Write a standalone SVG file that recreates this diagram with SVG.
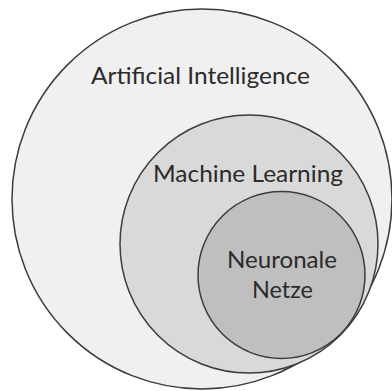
<svg xmlns="http://www.w3.org/2000/svg" width="392" height="391" viewBox="0 0 392 391">
<style>
.c{stroke:#3c3c3c;stroke-width:1.5}
.t{font-family:Lato,"Open Sans","Liberation Sans",sans-serif;fill:#2b2b2b;font-size:24px}
</style>
<rect width="392" height="391" fill="#fff"/>
<g id="ai">
<circle class="c" cx="202" cy="199" r="190" fill="#f0f0f0"/>
<text class="t" x="91" y="84" textLength="219" lengthAdjust="spacingAndGlyphs">Artificial Intelligence</text>
</g>
<g id="ml">
<circle class="c" cx="249" cy="244" r="129" fill="#d9d9d9"/>
<text class="t" x="153" y="182" textLength="190" lengthAdjust="spacingAndGlyphs">Machine Learning</text>
</g>
<g id="nn">
<circle class="c" cx="281.5" cy="275" r="83.5" fill="#bfbfbf"/>
<text class="t" x="227" y="268" textLength="110" lengthAdjust="spacingAndGlyphs">Neuronale</text>
<text class="t" x="252" y="298" textLength="61" lengthAdjust="spacingAndGlyphs">Netze</text>
</g>
</svg>
